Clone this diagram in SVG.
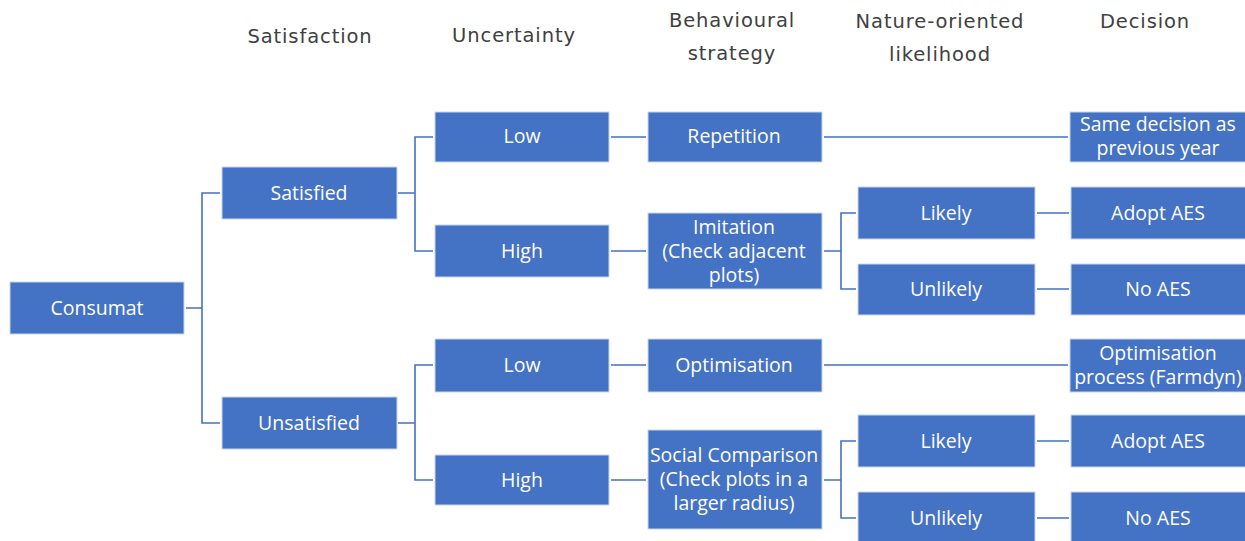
<svg xmlns="http://www.w3.org/2000/svg" width="1245" height="541" viewBox="0 0 1245 541">
<style>
.box{fill:#4472c4;stroke:#c9d6ee;stroke-width:1}
.t{fill:#ffffff;font-family:"Open Sans","Noto Sans",sans-serif;font-size:19.5px;text-anchor:middle;dominant-baseline:central}
.h{fill:#404040;font-family:"DejaVu Sans",Verdana,sans-serif;font-size:19.5px;letter-spacing:0.9px;text-anchor:middle;dominant-baseline:central}
.c{fill:none;stroke:#4472c4;stroke-width:1.6}
</style>
<rect width="1245" height="541" fill="#ffffff"/>
<g id="headers">
<text class="h" x="310" y="36">Satisfaction</text>
<text class="h" x="514" y="35">Uncertainty</text>
<text class="h" x="732" y="20">Behavioural</text>
<text class="h" x="732" y="53">strategy</text>
<text class="h" x="940" y="21">Nature-oriented</text>
<text class="h" x="940" y="54">likelihood</text>
<text class="h" x="1145" y="21">Decision</text>
</g>
<g id="connectors">
<path class="c" d="M186 308H202M220 193H202V423H220"/>
<path class="c" d="M398 193H415M433 137H415V251H433"/>
<path class="c" d="M398 423H415M433 365H415V480H433"/>
<path class="c" d="M611 137H646M611 251H646M611 365H646M611 480H646"/>
<path class="c" d="M824 137H1068M824 365H1068"/>
<path class="c" d="M824 251H841M856 213H841V289H856"/>
<path class="c" d="M824 480H841M856 441H841V518H856"/>
<path class="c" d="M1037 213H1069M1037 289H1069M1037 441H1069M1037 518H1069"/>
</g>
<g id="consumat"><rect class="box" x="10" y="282" width="174" height="52"/><text class="t" x="97" y="307">Consumat</text></g>
<g id="satisfied"><rect class="box" x="222" y="167" width="175" height="52"/><text class="t" x="309" y="192">Satisfied</text></g>
<g id="unsatisfied"><rect class="box" x="222" y="397" width="175" height="52"/><text class="t" x="309" y="422">Unsatisfied</text></g>
<g id="low1"><rect class="box" x="435" y="112" width="174" height="50"/><text class="t" x="522" y="135">Low</text></g>
<g id="high1"><rect class="box" x="435" y="225" width="174" height="52"/><text class="t" x="522" y="250">High</text></g>
<g id="low2"><rect class="box" x="435" y="339" width="174" height="53"/><text class="t" x="522" y="364">Low</text></g>
<g id="high2"><rect class="box" x="435" y="455" width="174" height="50"/><text class="t" x="522" y="479">High</text></g>
<g id="repetition"><rect class="box" x="648" y="112" width="174" height="50"/><text class="t" x="734" y="135">Repetition</text></g>
<g id="imitation"><rect class="box" x="648" y="213" width="174" height="76"/><text class="t" x="734" y="226">Imitation</text><text class="t" x="734" y="250">(Check adjacent</text><text class="t" x="734" y="274">plots)</text></g>
<g id="optimisation"><rect class="box" x="648" y="339" width="174" height="53"/><text class="t" x="734" y="364">Optimisation</text></g>
<g id="social"><rect class="box" x="648" y="430" width="174" height="99"/><text class="t" x="734" y="454">Social Comparison</text><text class="t" x="734" y="478">(Check plots in a</text><text class="t" x="734" y="502">larger radius)</text></g>
<g id="likely1"><rect class="box" x="858" y="187" width="177" height="52"/><text class="t" x="946" y="212">Likely</text></g>
<g id="unlikely1"><rect class="box" x="858" y="264" width="177" height="51"/><text class="t" x="946" y="288">Unlikely</text></g>
<g id="likely2"><rect class="box" x="858" y="415" width="177" height="52"/><text class="t" x="946" y="440">Likely</text></g>
<g id="unlikely2"><rect class="box" x="858" y="492" width="177" height="52"/><text class="t" x="946" y="517">Unlikely</text></g>
<g id="same"><rect class="box" x="1070" y="112" width="177" height="50"/><text class="t" x="1158" y="123">Same decision as</text><text class="t" x="1158" y="147">previous year</text></g>
<g id="adopt1"><rect class="box" x="1071" y="187" width="176" height="52"/><text class="t" x="1158" y="212">Adopt AES</text></g>
<g id="noaes1"><rect class="box" x="1071" y="264" width="176" height="51"/><text class="t" x="1158" y="288">No AES</text></g>
<g id="optproc"><rect class="box" x="1070" y="339" width="177" height="53"/><text class="t" x="1158" y="352">Optimisation</text><text class="t" x="1158" y="376">process (Farmdyn)</text></g>
<g id="adopt2"><rect class="box" x="1071" y="415" width="176" height="52"/><text class="t" x="1158" y="440">Adopt AES</text></g>
<g id="noaes2"><rect class="box" x="1071" y="492" width="176" height="52"/><text class="t" x="1158" y="517">No AES</text></g>
</svg>
